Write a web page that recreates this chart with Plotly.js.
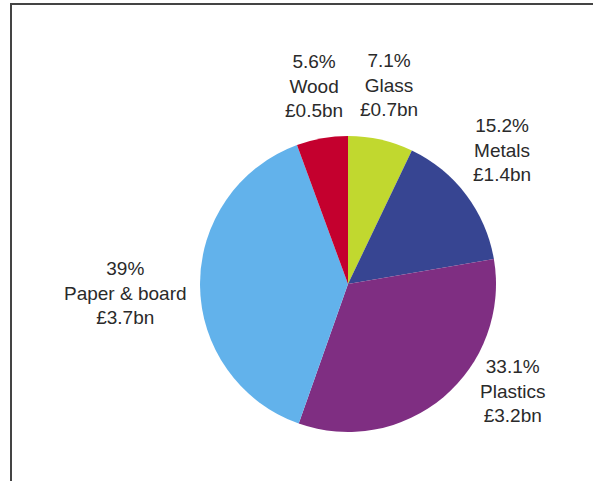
<!DOCTYPE html>
<html>
<head>
<meta charset="utf-8">
<script src="https://cdn.plot.ly/plotly-3.0.1.min.js"></script>
<style>
  html, body { margin: 0; padding: 0; background: #fff; }
  #frame { position: absolute; left: 10px; top: 3px; width: 583px; height: 478px;
           border-top: 2px solid #444; border-left: 2px solid #444; box-sizing: border-box; }
  #chart { position: absolute; left: 0; top: 0; width: 593px; height: 481px; }
</style>
</head>
<body>
<div id="chart"></div>
<div id="frame"></div>
<script>
// ---- data ----
const categories = ["Glass", "Metals", "Plastics", "Paper & board", "Wood"];
const shares = [7.1, 15.2, 33.1, 39, 5.6];
const shareLabels = ["7.1%", "15.2%", "33.1%", "39%", "5.6%"];
const valuesBn = ["£0.7bn", "£1.4bn", "£3.2bn", "£3.7bn", "£0.5bn"];

// ---- style ----
const colors = ["#c1d82f", "#374592", "#7f2e82", "#62b2eb", "#c4002e"];
const labelAngleNudge = [-1.0, -3.9, -16.8, -2.0, 0.4];   // degrees
const labelDistance = [203, 204, 196, 223, 201];          // px from centre

const W = 593, H = 481, cx = 348, cy = 284, r = 148;
const FONT = "Liberation Sans, Arial, Helvetica, sans-serif";

const total = shares.reduce((a, b) => a + b, 0);
let cum = 0;
const annotations = categories.map((c, i) => {
  const mid = (cum + shares[i] / 2) / total * 360;
  cum += shares[i];
  const th = (mid + labelAngleNudge[i]) * Math.PI / 180;
  const px = cx + labelDistance[i] * Math.sin(th);
  const py = cy - labelDistance[i] * Math.cos(th);
  return {
    xref: "paper", yref: "paper",
    x: px / W, y: 1 - py / H,
    xanchor: "center", yanchor: "middle",
    showarrow: false,
    align: "center",
    text: shareLabels[i] + "<br>" + c + "<br>" + valuesBn[i],
    font: { family: FONT, size: 19, color: "#2a2a2a" }
  };
});

const trace = {
  type: "pie",
  labels: categories,
  values: shares,
  textinfo: "none",
  textposition: "none",
  sort: false,
  direction: "clockwise",
  rotation: 0,
  marker: { colors: colors, line: { width: 0 } },
  domain: { x: [(cx - r) / W, (cx + r) / W], y: [(H - cy - r) / H, (H - cy + r) / H] },
  showlegend: false,
  hoverinfo: "none"
};

const layout = {
  width: W, height: H,
  margin: { l: 0, r: 0, t: 0, b: 0 },
  paper_bgcolor: "#fff",
  showlegend: false,
  annotations: annotations
};

Plotly.newPlot("chart", [trace], layout, { displayModeBar: false, staticPlot: true });
</script>
</body>
</html>
